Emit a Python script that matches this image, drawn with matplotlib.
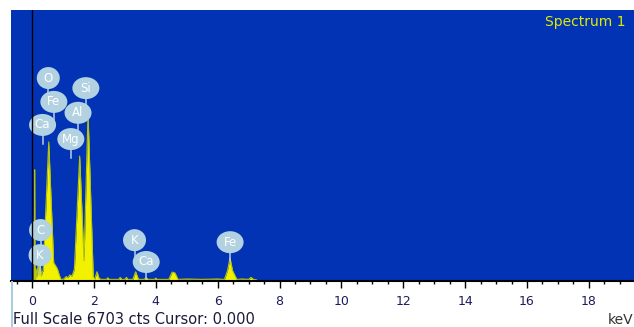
import matplotlib
matplotlib.use("Agg")
import matplotlib.pyplot as plt
import matplotlib.transforms as mtransforms
from matplotlib.patches import Ellipse, Rectangle
from matplotlib.lines import Line2D
from matplotlib.ticker import MultipleLocator

# EDS spectrum outline (energy in keV, counts)
energy_kev = [
    -0.68, 0.00, 0.07, 0.085, 0.095, 0.11, 0.13, 0.16, 0.20, 0.23,
    0.27, 0.30, 0.33, 0.36, 0.54, 0.70, 0.76, 0.82, 0.88, 0.93,
    0.98, 1.04, 1.10, 1.16, 1.22, 1.28, 1.33, 1.37, 1.54, 1.68,
    1.81, 1.98, 2.03, 2.10, 2.17, 2.25, 2.40, 2.45, 2.50, 2.80,
    2.85, 2.90, 3.00, 3.05, 3.10, 3.26, 3.35, 3.44, 3.62, 3.69,
    3.76, 3.95, 4.00, 4.05, 4.42, 4.53, 4.62, 4.72, 5.00, 5.50,
    6.00, 6.22, 6.32, 6.40, 6.48, 6.62, 6.80, 7.00, 7.08, 7.16,
    7.25, 7.30, 19.46,
]
counts = [
    0, 0, 0, 2750, 0, 0, 300, 100, 450, 150,
    380, 120, 220, 250, 3440, 450, 380, 300, 150, 50,
    35, 60, 110, 80, 150, 120, 200, 300, 3090, 500,
    4150, 100, 50, 230, 60, 40, 40, 80, 40, 40,
    90, 40, 40, 90, 40, 40, 230, 40, 40, 80,
    40, 40, 70, 40, 40, 220, 200, 40, 50, 40,
    50, 40, 260, 570, 260, 40, 50, 40, 90, 40,
    30, 0, 0,
]

full_scale_cts = 6703
cursor_kev = 0.000
spectrum_name = "Spectrum 1"

# element markers: name, line energy (keV), label height (counts)
label_names = ["O", "Fe", "Ca", "Si", "Al", "Mg", "C", "K", "K", "Ca", "Fe"]
label_kev = [0.525, 0.705, 0.341, 1.740, 1.487, 1.254, 0.277, 0.260, 3.313, 3.691, 6.403]
label_cts = [5020, 4430, 3860, 4770, 4160, 3510, 1260, 640, 1010, 470, 960]

x_min, x_max = -0.68, 19.46
major_ticks = list(range(0, 20, 2))

BG = "#0333b5"
YELLOW = "#f2f200"
MARK = "#b2d2e2"

fig = plt.figure(figsize=(6.34, 3.27), dpi=100)
ax = fig.add_axes([11 / 634, 46 / 327, 623 / 634, 271 / 327])
ax.set_facecolor(BG)

ax.fill_between(energy_kev, counts, 0, color=YELLOW, lw=0, zorder=2)
ax.plot(energy_kev, counts, color="#b4c40a", lw=0.8, zorder=2)

# element labels with stems
for name, e, h in zip(label_names, label_kev, label_cts):
    trans = fig.dpi_scale_trans + mtransforms.ScaledTranslation(e, h, ax.transData)
    w = 0.23 if len(name) == 1 else 0.27
    stem = Line2D([0, 0], [0, -0.19], transform=trans, color=MARK, lw=1.1, zorder=3)
    ax.add_line(stem)
    ell = Ellipse((0, 0), w, 0.22, transform=trans, facecolor=MARK,
                  edgecolor="none", zorder=4)
    ax.add_patch(ell)
    ax.text(e, h, name, ha="center", va="center", color="white",
            fontsize=8.5, zorder=5)

# cursor
ax.axvline(cursor_kev, color="black", lw=1.0, zorder=6)

ax.set_xlim(x_min, x_max)
ax.set_ylim(0, full_scale_cts)

for s in ("top", "left", "right"):
    ax.spines[s].set_visible(False)
ax.spines["bottom"].set_color("black")
ax.spines["bottom"].set_linewidth(1.5)
ax.spines["bottom"].set_zorder(7)

ax.set_yticks([])
ax.set_xticks(major_ticks)
ax.set_xticklabels([str(t) for t in major_ticks])
ax.xaxis.set_minor_locator(MultipleLocator(0.5))
ax.tick_params(axis="x", which="major", direction="out", length=5, width=1,
               color="black", pad=5, labelsize=9, labelcolor="#1c1c5a")
ax.tick_params(axis="x", which="minor", direction="out", length=2.5, width=1,
               color="black")

ax.text(0.987, 0.956, spectrum_name, transform=ax.transAxes, ha="right",
        va="center", color="#dcec00", fontsize=10)

fig.text(13 / 634, 7 / 327,
         f"Full Scale {full_scale_cts} cts Cursor: {cursor_kev:.3f}",
         fontsize=10.5, color="#1a1a3a", va="center", ha="left")
fig.text(0.999, 7 / 327, "keV", ha="right", va="center", fontsize=10,
         color="#333333")

fig.add_artist(Rectangle((11 / 634, 0), 2 / 634, 46 / 327,
                         transform=fig.transFigure, color="#a8cde0", lw=0))

fig.savefig("out.png", dpi=100)
